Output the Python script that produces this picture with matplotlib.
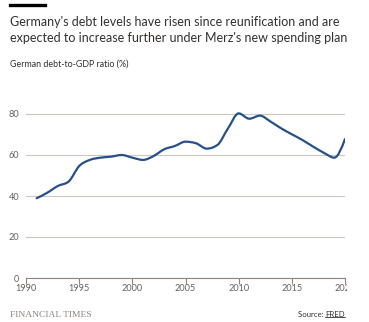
import numpy as np
import matplotlib
matplotlib.use("Agg")
import matplotlib.pyplot as plt
from matplotlib.path import Path
from matplotlib.patches import PathPatch
from matplotlib.transforms import Bbox

years = list(range(1991, 2021))
debt_ratio = [38.9, 41.6, 44.9, 47.0, 54.6, 57.6, 58.7, 59.2, 60.0, 58.7,
              57.6, 59.5, 62.8, 64.4, 66.5, 65.7, 63.1, 64.9, 73.0, 80.3,
              77.7, 79.2, 76.3, 73.0, 70.1, 67.3, 64.1, 61.1, 58.7, 67.8]
x_ticks = [1990, 1995, 2000, 2005, 2010, 2015, 2020]
y_ticks = [0, 20, 40, 60, 80]

TEXT = "#33302e"
MUTED = "#66605c"
GRID = "#cfc7bf"
LINE = "#27508a"

plt.rcParams['font.family'] = ['Lato', 'DejaVu Sans']


def monotone_path(xs, ys):
    # monotone-x cubic, drawn as bezier segments
    xs = np.asarray(xs, float)
    ys = np.asarray(ys, float)
    h = np.diff(xs)
    s = np.diff(ys) / h
    n = len(xs)
    t = np.zeros(n)
    for i in range(1, n - 1):
        p = (s[i - 1] * h[i] + s[i] * h[i - 1]) / (h[i - 1] + h[i])
        t[i] = (np.sign(s[i - 1]) + np.sign(s[i])) * min(abs(s[i - 1]), abs(s[i]), 0.5 * abs(p))
    t[0] = (3 * s[0] - t[1]) / 2
    t[-1] = (3 * s[-1] - t[-2]) / 2
    verts = [(xs[0], ys[0])]
    codes = [Path.MOVETO]
    for i in range(n - 1):
        d = h[i] / 3
        verts += [(xs[i] + d, ys[i] + d * t[i]),
                  (xs[i + 1] - d, ys[i + 1] - d * t[i + 1]),
                  (xs[i + 1], ys[i + 1])]
        codes += [Path.CURVE4] * 3
    return Path(verts, codes)


W, H = 369, 322
fig = plt.figure(figsize=(W / 100, H / 100), dpi=100)
fig.patch.set_facecolor("white")

# header
fig.add_artist(plt.Line2D([10 / W, 45 / W], [1 - 5 / H] * 2,
                          color="black", lw=2.4, transform=fig.transFigure))
fig.text(10 / W, 1 - 26 / H,
         "Germany's debt levels have risen since reunification and are",
         fontsize=9.0, color=TEXT, va="baseline")
fig.text(10 / W, 1 - 42 / H,
         "expected to increase further under Merz's new spending plan",
         fontsize=9.0, color=TEXT, va="baseline")
fig.text(10 / W, 1 - 67 / H, "German debt-to-GDP ratio (%)",
         fontsize=6.4, color=TEXT, va="baseline")

ax = fig.add_axes([26 / W, 44 / H, 319 / W, 184.5 / H])
ax.set_xlim(1990, 2020)
ax.set_ylim(0, 90)

ax.add_patch(PathPatch(monotone_path(years, debt_ratio), fill=False,
                       edgecolor=LINE, lw=1.6, capstyle="round", zorder=3))

ax.set_yticks(y_ticks)
ax.set_xticks(x_ticks)
ax.grid(axis="y", color=GRID, lw=0.8)
for side in ["left", "right", "top"]:
    ax.spines[side].set_visible(False)
ax.spines["bottom"].set_color("#8c857f")
ax.spines["bottom"].set_linewidth(0.8)
ax.tick_params(axis="y", length=0, pad=5, labelsize=6.6, labelcolor=MUTED)
ax.tick_params(axis="x", length=4, width=0.8, color="#8c857f", pad=0.5,
               labelsize=6.6, labelcolor=MUTED)

# last year label runs past the chart edge and is cut off there
fig.canvas.draw()
edge = Bbox.from_extents(0, 0, 347, H)
for lab in ax.get_xticklabels():
    lab.set_clip_box(edge)
    lab.set_clip_on(True)

fig.text(10 / W, 1 - 317 / H, "FINANCIAL TIMES", family="Liberation Serif",
         fontsize=6.8, color="#8a8480", va="baseline")
src = fig.text(345 / W, 1 - 317 / H, "FRED", fontsize=5.6, color=TEXT,
               va="baseline", ha="right")
fig.canvas.draw()
bb = src.get_window_extent()
# "Source:" sits just left of FRED, which is underlined
fig.text(bb.x0 / W, 1 - 317 / H, "Source: ", fontsize=5.6, color=TEXT,
         va="baseline", ha="right")
fig.add_artist(plt.Line2D([bb.x0 / W, bb.x1 / W], [(bb.y0 + 1.5) / H] * 2,
                          color=TEXT, lw=0.6, transform=fig.transFigure))

fig.savefig("out.png", dpi=100)
